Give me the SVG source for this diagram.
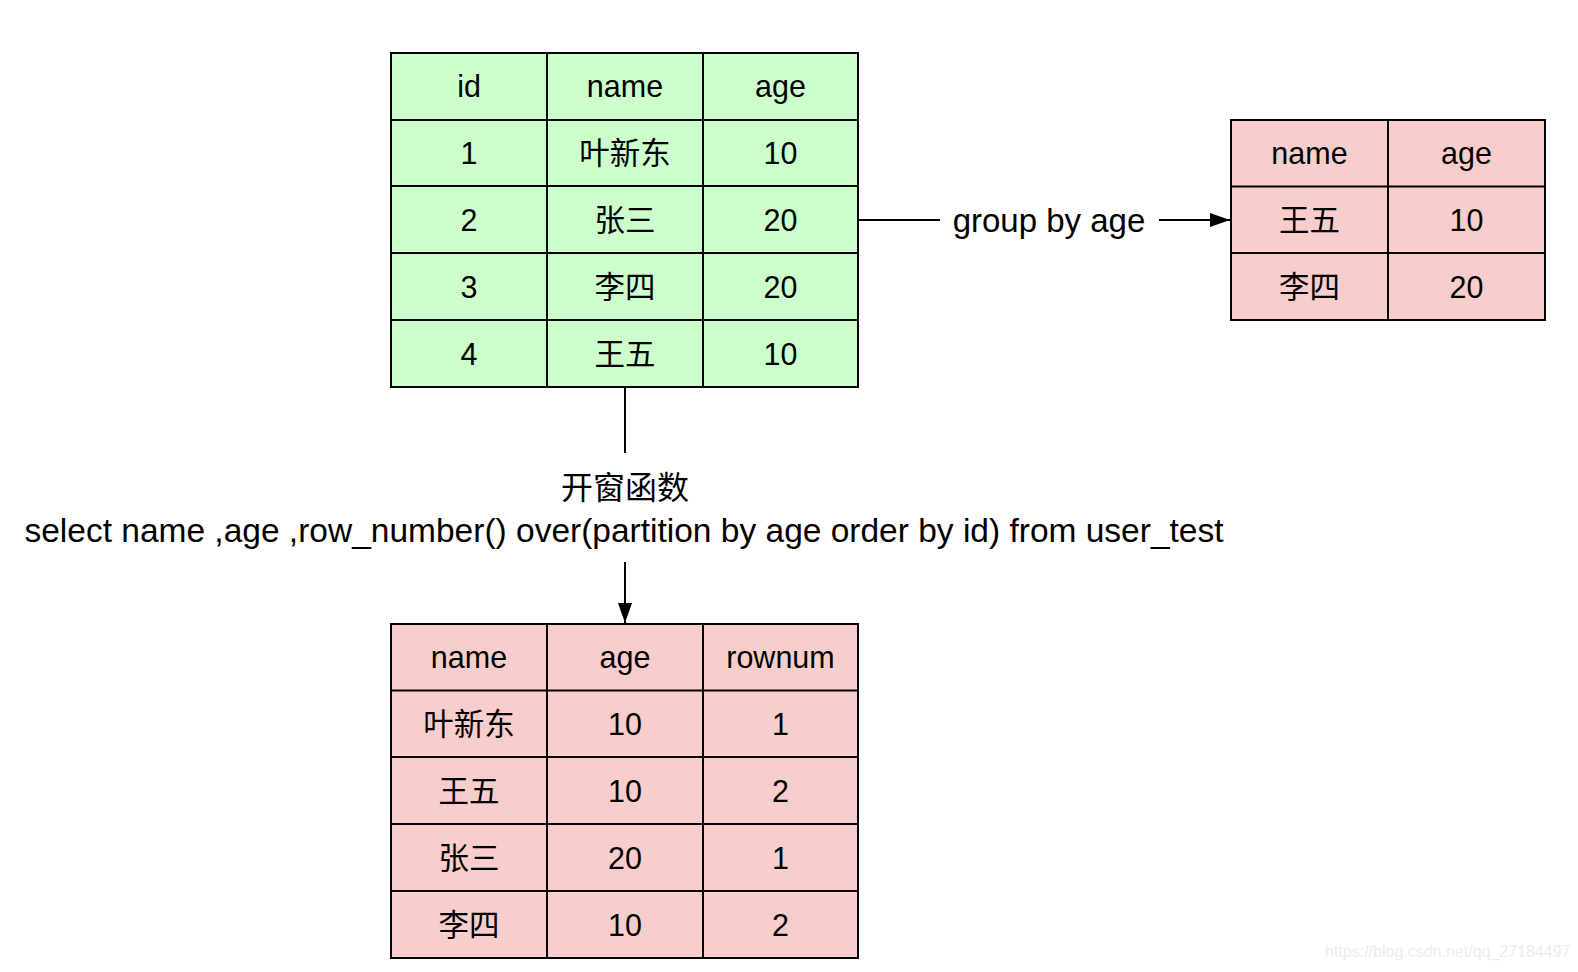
<svg xmlns="http://www.w3.org/2000/svg" width="1578" height="972" viewBox="0 0 1578 972">
<style>
.g{fill:#CCFFCC;stroke:#000;stroke-width:2}
.p{fill:#F8CECC;stroke:#000;stroke-width:2}
.ln{stroke:#000;stroke-width:2;fill:none}
.t{font-family:"Liberation Sans",Arial,"Noto Sans CJK SC",sans-serif;font-size:30.5px;fill:#000;text-anchor:middle}
.lbl{font-family:"Liberation Sans",Arial,"Noto Sans CJK SC",sans-serif;fill:#000;text-anchor:middle}
.wm{font-family:"Liberation Sans",Arial,sans-serif;font-size:16px;fill:#ececec}
</style>
<defs>
<marker id="ah" markerWidth="20" markerHeight="14" refX="20" refY="7" orient="auto" markerUnits="userSpaceOnUse">
<path d="M0,0 L20,7 L0,14 Z" fill="#000"/>
</marker>
</defs>
<rect width="1578" height="972" fill="#fff"/>

<g id="connectors">
<line class="ln" x1="858" y1="220" x2="940" y2="220"/>
<line class="ln" x1="1159" y1="220" x2="1230" y2="220" marker-end="url(#ah)"/>
<line class="ln" x1="625" y1="387" x2="625" y2="453"/>
<line class="ln" x1="625" y1="562" x2="625" y2="623" marker-end="url(#ah)"/>
<text class="lbl" x="1049" y="231.5" font-size="33">group by age</text>
<text class="lbl" x="625" y="499" font-size="32">开窗函数</text>
<text class="lbl" x="624" y="541.5" font-size="33.5">select name ,age ,row_number() over(partition by age order by id) from user_test</text>
</g>

<g id="user_test">
<rect class="g" x="391" y="53" width="467" height="334"/>
<path class="ln" d="M547,53V387M703,53V387M391,120H858M391,186H858M391,253H858M391,320H858"/>
<text class="t" x="469" y="97">id</text>
<text class="t" x="625" y="97">name</text>
<text class="t" x="780.5" y="97">age</text>
<text class="t" x="469" y="164">1</text>
<text class="t" x="625" y="164">叶新东</text>
<text class="t" x="780.5" y="164">10</text>
<text class="t" x="469" y="230.5">2</text>
<text class="t" x="625" y="230.5">张三</text>
<text class="t" x="780.5" y="230.5">20</text>
<text class="t" x="469" y="297.5">3</text>
<text class="t" x="625" y="297.5">李四</text>
<text class="t" x="780.5" y="297.5">20</text>
<text class="t" x="469" y="364.5">4</text>
<text class="t" x="625" y="364.5">王五</text>
<text class="t" x="780.5" y="364.5">10</text>
</g>

<g id="group_result">
<rect class="p" x="1231" y="120" width="314" height="200"/>
<path class="ln" d="M1388,120V320M1231,186.5H1545M1231,253H1545"/>
<text class="t" x="1309.5" y="164">name</text>
<text class="t" x="1466.5" y="164">age</text>
<text class="t" x="1309.5" y="231">王五</text>
<text class="t" x="1466.5" y="231">10</text>
<text class="t" x="1309.5" y="297.5">李四</text>
<text class="t" x="1466.5" y="297.5">20</text>
</g>

<g id="window_result">
<rect class="p" x="391" y="624" width="467" height="334"/>
<path class="ln" d="M547,624V958M703,624V958M391,690.5H858M391,757H858M391,824H858M391,891H858"/>
<text class="t" x="469" y="668">name</text>
<text class="t" x="625" y="668">age</text>
<text class="t" x="780.5" y="668">rownum</text>
<text class="t" x="469" y="735">叶新东</text>
<text class="t" x="625" y="735">10</text>
<text class="t" x="780.5" y="735">1</text>
<text class="t" x="469" y="801.5">王五</text>
<text class="t" x="625" y="801.5">10</text>
<text class="t" x="780.5" y="801.5">2</text>
<text class="t" x="469" y="868.5">张三</text>
<text class="t" x="625" y="868.5">20</text>
<text class="t" x="780.5" y="868.5">1</text>
<text class="t" x="469" y="935.5">李四</text>
<text class="t" x="625" y="935.5">10</text>
<text class="t" x="780.5" y="935.5">2</text>
</g>

<text class="wm" x="1325" y="957">https://blog.csdn.net/qq_27184497</text>
</svg>
